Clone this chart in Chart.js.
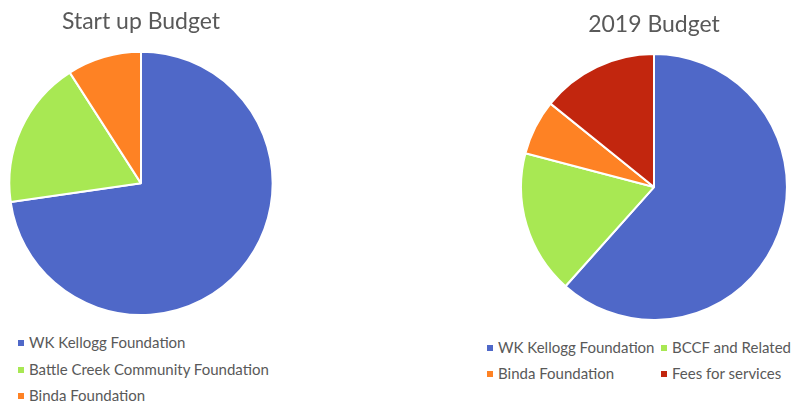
<!DOCTYPE html>
<html>
<head>
<meta charset="utf-8">
<script src="https://cdn.jsdelivr.net/npm/chart.js@4/dist/chart.umd.min.js"></script>
<style>
  body { margin: 0; background: #fff; width: 792px; height: 404px; position: relative; overflow: hidden; }
  canvas { position: absolute; }
  .legend { position: absolute; font-family: Lato, sans-serif; font-size: 15px; color: #595959; }
  .item { position: absolute; white-space: nowrap; line-height: 17px; }
  .box { position: absolute; width: 6px; height: 6px; top: 6px; left: 0; }
  .item span.txt { position: absolute; left: 11px; top: 0; }
</style>
</head>
<body>
<canvas id="startup" width="282" height="316" style="left:0;top:0"></canvas>
<canvas id="budget2019" width="268" height="321" style="left:520px;top:0"></canvas>
<div id="legendLeft" class="legend"></div>
<div id="legendRight" class="legend"></div>
<script>
// start up budget
let startLabels = ['WK Kellogg Foundation', 'Battle Creek Community Foundation', 'Binda Foundation'];
let startValues = [800000, 200000, 100000];
let startColors = ['#4F68C8', '#A8E853', '#FE8224'];

// 2019 budget
let labels2019 = ['WK Kellogg Foundation', 'BCCF and Related', 'Binda Foundation', 'Fees for services'];
let values2019 = [61.6, 17.5, 6.7, 14.2];
let colors2019 = ['#4F68C8', '#A8E853', '#FE8224', '#C2260E'];

function pieOptions(title, pad) {
    return {
        responsive: false,
        animation: false,
        layout: { padding: 0 },
        plugins: {
            legend: { display: false },
            tooltip: { enabled: false },
            title: {
                display: true,
                text: title,
                color: '#595959',
                font: { family: 'Lato', size: 23, weight: 'normal' },
                padding: pad
            }
        }
    };
}

new Chart(document.getElementById('startup').getContext('2d'), {
    type: 'pie',
    data: {
        labels: startLabels,
        datasets: [{ data: startValues, backgroundColor: startColors, borderColor: '#fff', borderWidth: 2 }]
    },
    options: pieOptions('Start up Budget', { top: 7.5, bottom: 15.6 })
});

new Chart(document.getElementById('budget2019').getContext('2d'), {
    type: 'pie',
    data: {
        labels: labels2019,
        datasets: [{ data: values2019, backgroundColor: colors2019, borderColor: '#fff', borderWidth: 2 }]
    },
    options: pieOptions('2019 Budget', { top: 10.5, bottom: 15 })
});

// html legends
function addItem(parent, text, color, x, y) {
    let d = document.createElement('div');
    d.className = 'item';
    d.style.left = x + 'px';
    d.style.top = y + 'px';
    d.innerHTML = '<span class="box" style="background:' + color + '"></span><span class="txt"></span>';
    d.querySelector('.txt').textContent = text;
    parent.appendChild(d);
}

let legL = document.getElementById('legendLeft');
startLabels.forEach(function (l, i) {
    addItem(legL, l, startColors[i], 18, 334 + i * 26.7);
});

let legR = document.getElementById('legendRight');
labels2019.forEach(function (l, i) {
    let col = i % 2, row = Math.floor(i / 2);
    addItem(legR, l, colors2019[i], col ? 661 : 487, 339 + row * 26);
});
</script>
</body>
</html>
